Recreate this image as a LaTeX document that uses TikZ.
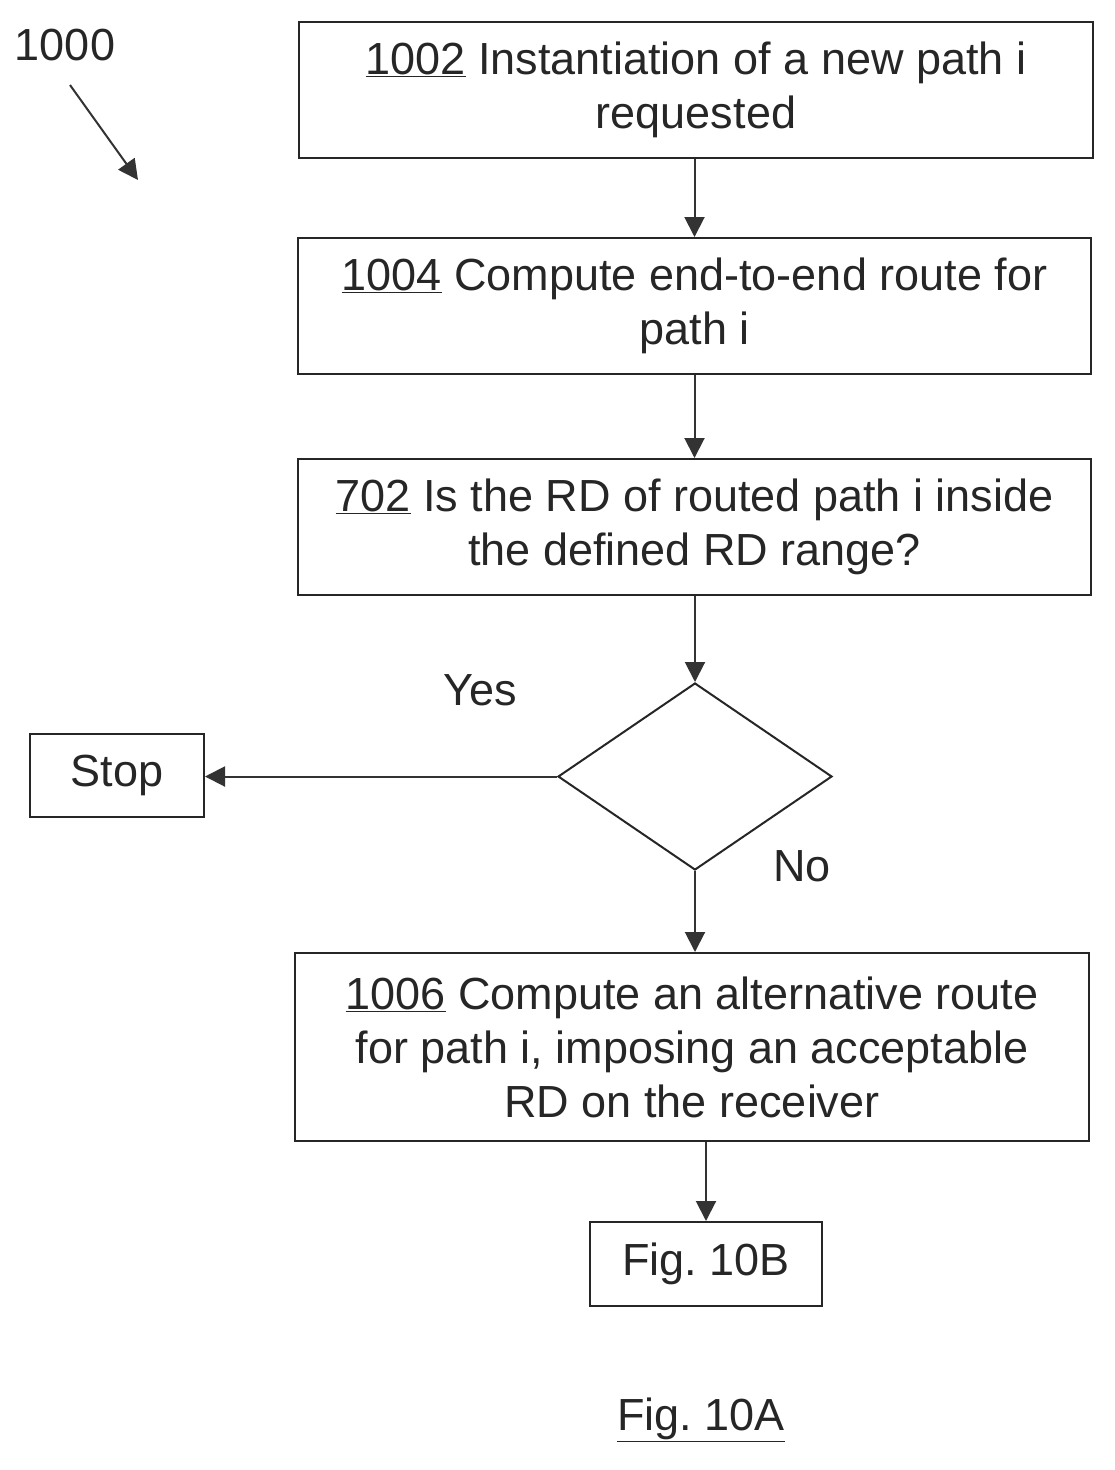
\documentclass[tikz,border=0pt]{standalone}
\usepackage{fontspec}
\setmainfont{Liberation Sans}
\usetikzlibrary{arrows.meta,shapes.geometric}
\begin{document}
\begin{tikzpicture}[x=1pt,y=-1pt,
  box/.style={draw,line width=2pt,inner sep=0pt,align=center,font=\fontsize{45}{54}\selectfont,color=black!85},
  arr/.style={line width=2pt,draw=black!80,-{Triangle[length=20pt,width=20pt]}},
  lab/.style={font=\fontsize{45}{54}\selectfont,text=black!85}]
\useasboundingbox (0,0) rectangle (1115,1470);
\node[box,minimum width=794pt,minimum height=136pt] (b1) at (696,90) {\underline{1002} Instantiation of a new path i\\requested};
\node[box,minimum width=793pt,minimum height=136pt] (b2) at (694.5,306) {\underline{1004} Compute end-to-end route for\\path i};
\node[box,minimum width=793pt,minimum height=136pt] (b3) at (694.5,527) {\underline{702} Is the RD of routed path i inside\\the defined RD range?};
\node[draw,line width=2pt,color=black!85,diamond,aspect=1.465,minimum width=274pt,minimum height=187pt,inner sep=0pt] (d) at (695,776.5) {};
\node[box,minimum width=174pt,minimum height=83pt] (stop) at (117,775.5) {Stop};
\node[box,minimum width=794pt,minimum height=188pt] (b4) at (692,1047) {\underline{1006} Compute an alternative route\\for path i, imposing an acceptable\\RD on the receiver};
\node[box,minimum width=232pt,minimum height=84pt] (b5) at (706,1264) {Fig.\ 10B};
\node[lab] (yes) at (480,690) {Yes};
\node[lab] (no) at (802,866) {No};
\node[lab] (ref) at (65,45) {1000};
\node[lab] (fig) at (701,1420) {\underline{Fig.\ 10A}};
\coordinate (a0) at (70,85); \coordinate (a1) at (138,180);
\draw[arr] (a0) -- (a1);
\draw[arr] (b1.south -| b2.north) -- (b2.north);
\draw[arr] (b2.south) -- (b3.north);
\draw[arr] (b3.south -| d.north) -- (d.north);
\draw[arr] (d.west) -- (d.west -| stop.east);
\draw[arr] (d.south) -- (d.south |- b4.north);
\draw[arr] (b4.south -| b5.north) -- (b5.north);
\end{tikzpicture}
\end{document}
